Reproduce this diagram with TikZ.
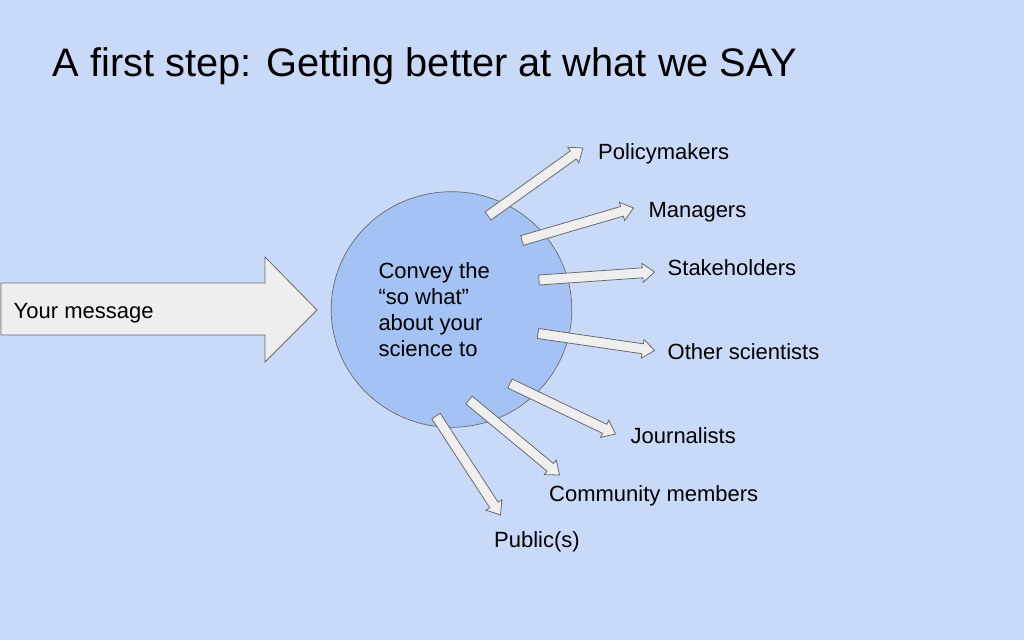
\documentclass[tikz,border=0pt]{standalone}
\usepackage{fontspec}
\setmainfont{Liberation Sans}
\usetikzlibrary{calc}
\definecolor{bg}{HTML}{C9DAF8}
\definecolor{circfill}{HTML}{A4C2F4}
\definecolor{arrfill}{HTML}{EFEFEF}
\definecolor{arrline}{HTML}{6B6B6B}
\tikzset{
  blockarrow/.style={fill=arrfill,draw=arrline,line width=0.8pt,line join=miter},
  lbl/.style={anchor=base west,inner sep=0pt,font=\fontsize{22}{26.2}\selectfont},
}
\newcommand\barrow[2]{%
  \coordinate (#1h) at ($(#2)!12pt!(#1)$);
  \draw[blockarrow] ($(#1)!5pt!90:(#2)$) -- ($(#1h)!5pt!-90:(#1)$) -- ($(#1h)!9.5pt!-90:(#1)$) -- (#2)
    -- ($(#1h)!9.5pt!90:(#1)$) -- ($(#1h)!5pt!90:(#1)$) -- ($(#1)!5pt!-90:(#2)$) -- cycle;}
\begin{document}
\begin{tikzpicture}[x=1pt,y=-1pt]
\fill[bg] (0,0) rectangle (1024,640);
\useasboundingbox (0,0) rectangle (1024,640);
% title
\node[anchor=base west,inner sep=0pt,font=\fontsize{39.8}{48}\selectfont] (title) at (52.5,76.7) {A first step: Getting better at what we SAY};
% big arrow
\draw[blockarrow] (1,283) -- (265,283) -- (265,257) -- (317,310) -- (265,362) -- (265,335) -- (1,335) -- cycle;
\node[lbl] (msg) at (13.5,318.3) {Your message};
% circle
\draw[fill=circfill,draw=arrline,line width=0.7pt] (451.5,309.5) ellipse [x radius=120.3, y radius=117.8];
\node[lbl,align=left,anchor=north west] (conv) at (378.3,262) {Convey the\\“so what”\\about your\\science to};
% labels
\node[lbl] (pol) at (598,159.3) {Policymakers};
\node[lbl] (man) at (648.3,217.3) {Managers};
\node[lbl] (sta) at (667.5,275.7) {Stakeholders};
\node[lbl] (oth) at (667.5,359.3) {Other scientists};
\node[lbl] (jou) at (630.5,443.3) {Journalists};
\node[lbl] (com) at (549,501.3) {Community members};
\node[lbl] (pub) at (494,547) {Public(s)};
% arrow endpoints
\coordinate (t1) at (488,216); \coordinate (e1) at (583,148);
\coordinate (t2) at (522,240.5); \coordinate (e2) at (633.5,208);
\coordinate (t3) at (539,280); \coordinate (e3) at (654.5,272);
\coordinate (t4) at (538,333.5); \coordinate (e4) at (654.5,350.5);
\coordinate (t5) at (510,383.5); \coordinate (e5) at (615.5,434);
\coordinate (t6) at (469,400); \coordinate (e6) at (559.5,475);
\coordinate (t7) at (436,416); \coordinate (e7) at (500.5,515);
\barrow{t1}{e1}
\barrow{t2}{e2}
\barrow{t3}{e3}
\barrow{t4}{e4}
\barrow{t5}{e5}
\barrow{t6}{e6}
\barrow{t7}{e7}
\end{tikzpicture}
\end{document}
